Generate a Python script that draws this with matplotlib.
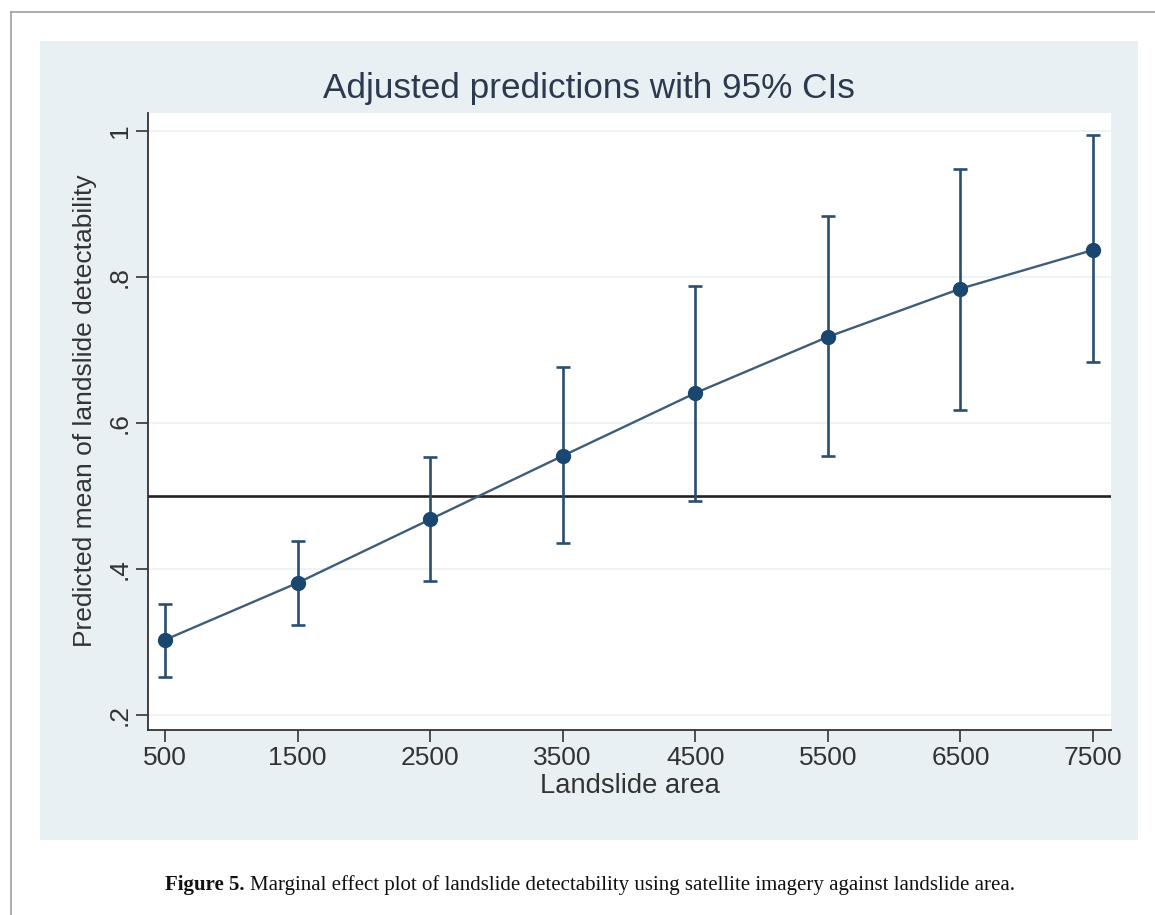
import matplotlib
matplotlib.use("Agg")
import matplotlib.pyplot as plt
from matplotlib.patches import Rectangle
from matplotlib.lines import Line2D

# data
area = [500, 1500, 2500, 3500, 4500, 5500, 6500, 7500]
pred = [0.303, 0.381, 0.468, 0.555, 0.641, 0.718, 0.784, 0.837]
ci_low = [0.252, 0.324, 0.384, 0.435, 0.493, 0.555, 0.618, 0.684]
ci_high = [0.352, 0.438, 0.554, 0.677, 0.788, 0.883, 0.948, 0.995]
yticks = [0.2, 0.4, 0.6, 0.8, 1.0]
ytick_labels = [".2", ".4", ".6", ".8", "1"]
ref_line = 0.5

plt.rcParams['font.family'] = ['Liberation Sans', 'DejaVu Sans']

W, H = 1155, 915
fig = plt.figure(figsize=(W / 100, H / 100), dpi=100)

# page border and grey panel
fig.add_artist(Line2D([11 / W, 1], [1 - 12 / H, 1 - 12 / H], color='#a0a0a0', lw=1.2))
fig.add_artist(Line2D([11 / W, 11 / W], [0, 1 - 12 / H], color='#a0a0a0', lw=1.2))
fig.patches.append(Rectangle((40 / W, 1 - 840 / H), (1138 - 40) / W, (840 - 41) / H,
                             transform=fig.transFigure, facecolor='#e9f0f3',
                             edgecolor='none', zorder=-1))

ax = fig.add_axes([148 / W, 1 - 730 / H, (1111 - 148) / W, (730 - 113) / H])
ax.set_zorder(2)
ax.set_facecolor('white')

navy = '#1a476f'
ax.axhline(ref_line, color='#222222', lw=1.9, zorder=2)
ax.plot(area, pred, color='#3f5d78', lw=1.7, zorder=3)
yerr = [[p - l for p, l in zip(pred, ci_low)], [h - p for p, h in zip(pred, ci_high)]]
ax.errorbar(area, pred, yerr=yerr, fmt='none', ecolor='#2b4e6e', elinewidth=1.9,
            capsize=5, capthick=1.9, zorder=3)
ax.plot(area, pred, 'o', color=navy, markersize=10, zorder=4)

ax.set_xlim(372, 7636)
ax.set_ylim(0.1795, 1.0247)
ax.set_xticks(area)
ax.set_xticklabels([str(a) for a in area])
ax.set_yticks(yticks)
ax.set_yticklabels(ytick_labels, rotation=90, va='center')
ax.grid(axis='y', color='#eaf0f3', lw=1.2)
ax.set_axisbelow(True)

for s in ['top', 'right']:
    ax.spines[s].set_visible(False)
for s in ['left', 'bottom']:
    ax.spines[s].set_color('#333333')
    ax.spines[s].set_linewidth(1.3)

ax.tick_params(axis='both', length=8.5, width=1.2, color='#333333',
               labelsize=19, labelcolor='#333333', pad=3)

ax.set_xlabel('Landslide area', fontsize=19.7, color='#333333', labelpad=2)
ax.set_ylabel('Predicted mean of landslide detectability', fontsize=19,
              color='#333333')
ax.yaxis.set_label_coords(-0.053, 0.5 + 11 / 617)

fig.text(589 / W, 1 - 88 / H, 'Adjusted predictions with 95% CIs', ha='center',
         va='center', fontsize=25.3, color='#2c3a4f')

# caption: bold label followed by normal text
renderer = fig.canvas.get_renderer()
cap_y = 1 - 890 / H
t1 = fig.text(165 / W, cap_y, 'Figure 5.', fontsize=15.05, fontweight='bold',
              family='Liberation Serif', ha='left', va='baseline', color='#111111')
bb = t1.get_window_extent(renderer)
fig.text((bb.x1 + 5) / W, cap_y,
         'Marginal effect plot of landslide detectability using satellite imagery against landslide area.',
         fontsize=15.05, family='Liberation Serif', ha='left', va='baseline', color='#111111')

fig.savefig('out.png', dpi=100, facecolor='white')
